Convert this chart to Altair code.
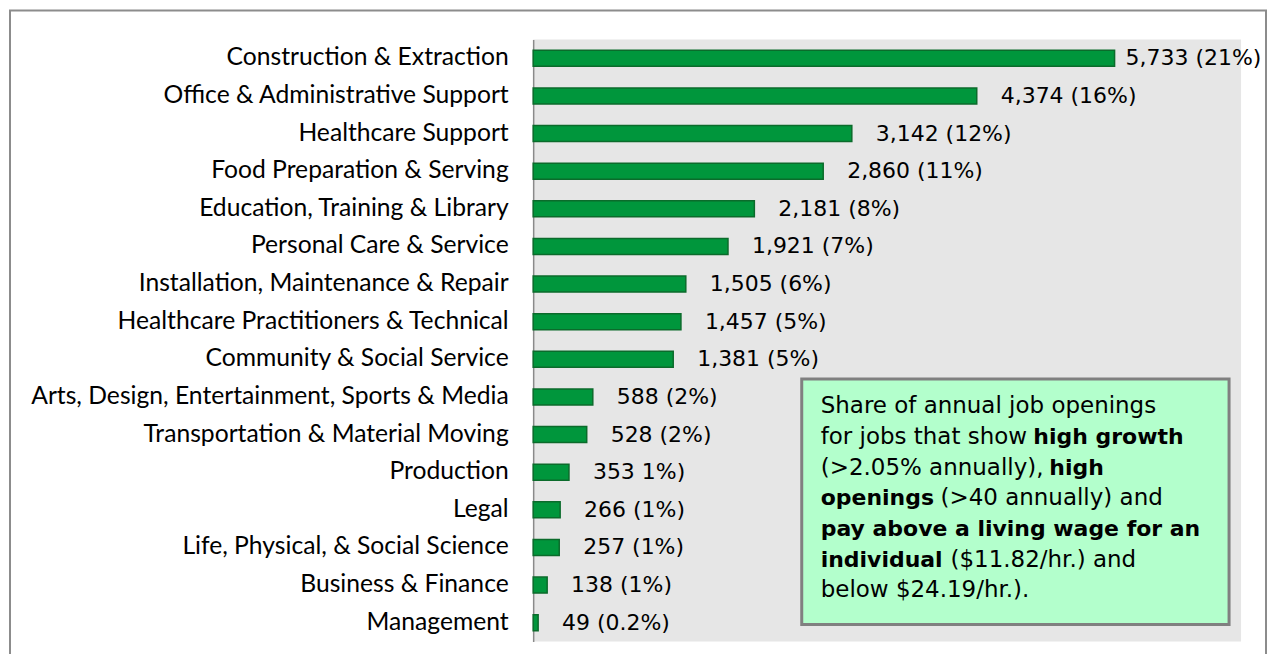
import altair as alt
import pandas as pd

categories = [
    "Construction & Extraction",
    "Office & Administrative Support",
    "Healthcare Support",
    "Food Preparation & Serving",
    "Education, Training & Library",
    "Personal Care & Service",
    "Installation, Maintenance & Repair",
    "Healthcare Practitioners & Technical",
    "Community & Social Service",
    "Arts, Design, Entertainment, Sports & Media",
    "Transportation & Material Moving",
    "Production",
    "Legal",
    "Life, Physical, & Social Science",
    "Business & Finance",
    "Management",
]
values = [5733, 4374, 3142, 2860, 2181, 1921, 1505, 1457, 1381, 588, 528, 353, 266, 257, 138, 49]
value_labels = [
    "5,733 (21%)", "4,374 (16%)", "3,142 (12%)", "2,860 (11%)", "2,181 (8%)",
    "1,921 (7%)", "1,505 (6%)", "1,457 (5%)", "1,381 (5%)", "588 (2%)",
    "528 (2%)", "353 1%)", "266 (1%)", "257 (1%)", "138 (1%)", "49 (0.2%)",
]

df = pd.DataFrame({"category": categories, "value": values, "label": value_labels})
one = pd.DataFrame({"k": [0]})

LABEL_FONT = "Lato"
VALUE_FONT = "DejaVu Sans"
NOTE_FONT = "DejaVu Sans"

y_enc = alt.Y("category:N", sort=categories, title=None,
              scale=alt.Scale(paddingInner=0.575, paddingOuter=0.2875),
              axis=alt.Axis(domainColor="#8a8a8a", domainWidth=1.5, ticks=False,
                            labelFontSize=24.7, labelFont=LABEL_FONT, labelColor="#000000",
                            labelPadding=25, labelLimit=0, grid=False))
x_enc = alt.X("value:Q", scale=alt.Scale(domain=[0, 6980], nice=False), axis=None)

base = alt.Chart(df)

frame = alt.Chart(one).mark_rect(fill="white", fillOpacity=0, stroke="#8c8c8c", strokeWidth=2).encode(
    x=alt.value(-524), x2=alt.value(734), y=alt.value(-29), y2=alt.value(640))

bars = base.mark_bar(color="#00963C", stroke="#0B6B2B", strokeWidth=1.5).encode(x=x_enc, y=y_enc)

text_style = dict(align="left", baseline="middle", font=VALUE_FONT, fontSize=22, color="#000000")
labels_main = base.transform_filter("datum.value < 5000").mark_text(dx=24, **text_style).encode(
    x=x_enc, y=y_enc, text="label:N")
labels_top = base.transform_filter("datum.value >= 5000").mark_text(dx=11, **text_style).encode(
    x=x_enc, y=y_enc, text="label:N")

box = alt.Chart(one).mark_rect(fill="#B3FFCC", stroke="#808080", strokeWidth=3).encode(
    x=alt.value(269), x2=alt.value(697), y=alt.value(340), y2=alt.value(586))

note_segments = [
    ("Share of annual job openings", "normal", 288, 374.5),
    ("for jobs that show", "normal", 288, 405.2),
    ("high growth", "bold", 501, 405.2),
    ("(>2.05% annually),", "normal", 288, 435.9),
    ("high", "bold", 517, 435.9),
    ("openings", "bold", 288, 466.6),
    ("(>40 annually) and", "normal", 408, 466.6),
    ("pay above a living wage for an", "bold", 288, 497.3),
    ("individual", "bold", 288, 528),
    ("($11.82/hr.) and", "normal", 418, 528),
    ("below $24.19/hr.).", "normal", 288, 558.7),
]
note_layers = []
for txt, weight, px, py in note_segments:
    note_layers.append(
        alt.Chart(one).mark_text(align="left", baseline="alphabetic", font=NOTE_FONT,
                                 fontSize=22 if weight == "bold" else 23,
                                 fontWeight=weight, color="#000000", text=txt).encode(
            x=alt.value(px), y=alt.value(py))
    )

chart = alt.layer(frame, bars, labels_main, labels_top, box, *note_layers).properties(
    width=709, height=603,
    padding={"left": 526, "top": 31, "right": 26, "bottom": 12},
    autosize=alt.AutoSizeParams(type="none"),
    background="white",
).configure_view(fill="#E6E6E6", stroke=None)

chart.save("out.html", embed_options={"renderer": "svg", "actions": False})
